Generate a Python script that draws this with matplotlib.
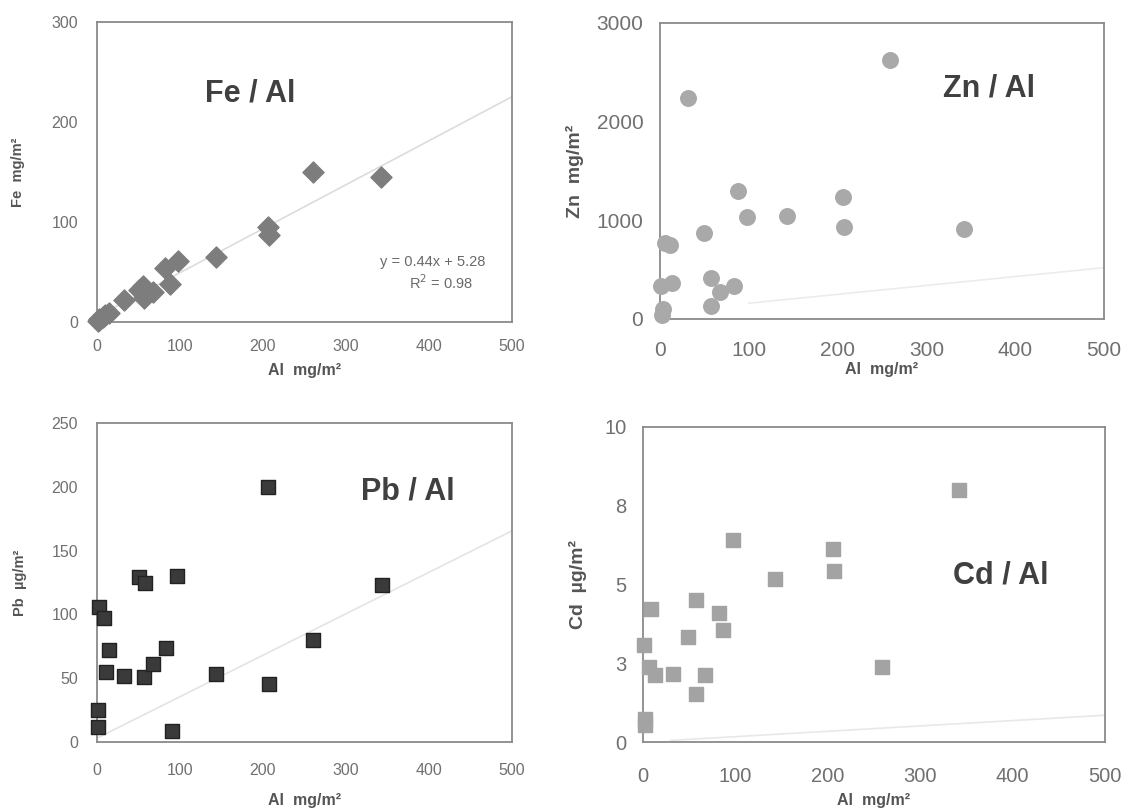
import matplotlib
matplotlib.use("Agg")
import matplotlib.pyplot as plt
import numpy as np

plt.rcParams['font.family'] = ['Liberation Sans', 'DejaVu Sans']

# Fe / Al
fe_al = [1, 2, 2, 7, 10, 14, 32, 50, 56, 57, 67, 82, 88, 97, 143, 206, 207, 260, 342]
fe = [1, 2, 3, 5, 7, 9, 22, 32, 36, 24, 30, 54, 38, 61, 65, 95, 87, 150, 145]
fe_fit = (0.44, 5.28)

# Zn / Al
zn_al = [259, 32, 88, 206, 98, 143, 207, 342, 50, 6, 11, 1, 14, 57, 68, 83, 57, 3, 2]
zn = [2629, 2241, 1298, 1234, 1038, 1048, 930, 910, 870, 775, 752, 337, 364, 415, 273, 330, 135, 101, 44]
zn_fit = (0.9, 70)

# Pb / Al
pb_al = [206, 343, 96, 50, 58, 2, 8, 14, 11, 33, 57, 68, 83, 143, 207, 260, 90, 1, 1]
pb = [200, 123, 130, 129, 125, 106, 97, 72, 55, 52, 51, 61, 74, 53.5, 45.5, 80, 9, 25, 12]
pb_fit = (0.325, 3)

# Cd / Al
cd_al = [342, 97, 206, 207, 143, 57, 9, 82, 87, 49, 1, 7, 13, 32, 67, 259, 57, 2, 2]
cd = [7.99, 6.42, 6.14, 5.42, 5.16, 4.50, 4.23, 4.10, 3.54, 3.33, 3.07, 2.38, 2.12, 2.17, 2.12, 2.38, 1.53, 0.74, 0.53]
cd_fit = (0.0017, 0.0)

fig = plt.figure(figsize=(11.3, 8.11), dpi=100)
W, H = 1130, 811


def box(l, t, r, b):
    return [l / W, 1 - b / H, (r - l) / W, (b - t) / H]


def style(ax, tick_size, xpad, ypad):
    for s in ax.spines.values():
        s.set_color('#8a8a8a')
        s.set_linewidth(1.3)
    ax.tick_params(length=0, labelsize=tick_size, labelcolor='#707070')
    ax.tick_params(axis='x', pad=xpad)
    ax.tick_params(axis='y', pad=ypad)
    ax.set_xlim(0, 500)
    ax.set_xticks([0, 100, 200, 300, 400, 500])


lab = dict(fontweight='bold', color='#555555')
ttl = dict(fontsize=22, fontweight='bold', color='#404040', va='center')

# ---- Fe
ax1 = fig.add_axes(box(97, 22, 512, 322))
xs = np.array([0, 500])
ax1.plot(xs, fe_fit[0] * xs + fe_fit[1], color='#dcdcdc', lw=1.2, zorder=1)
ax1.scatter(fe_al, fe, marker='D', s=115, color='#7d7d7d', edgecolors='#7d7d7d', zorder=3, clip_on=False)
ax1.set_ylim(0, 300)
ax1.set_yticks([0, 100, 200, 300])
style(ax1, 11.5, 12, 13.5)
ax1.set_xlabel('Al  mg/m²', fontsize=11.5, labelpad=7, **lab)
ax1.set_ylabel('Fe  mg/m²', fontsize=10.5, labelpad=19, **lab)
ax1.text(0.26, 0.76, 'Fe / Al', transform=ax1.transAxes, **ttl)
ax1.text(0.81, 0.2, 'y = 0.44x + 5.28', transform=ax1.transAxes, fontsize=10.5, color='#6a6a6a', ha='center', va='center')
ax1.text(0.83, 0.13, 'R$^2$ = 0.98', transform=ax1.transAxes, fontsize=10.5, color='#6a6a6a', ha='center', va='center')

# ---- Zn
ax2 = fig.add_axes(box(660, 23, 1104, 319))
xs = np.array([100, 500])
ax2.plot(xs, zn_fit[0] * xs + zn_fit[1], color='#ececec', lw=1.2, zorder=1)
ax2.scatter(zn_al, zn, marker='o', s=125, color='#a9a9a9', edgecolors='#a9a9a9', zorder=3, clip_on=False)
ax2.set_ylim(0, 3000)
ax2.set_yticks([0, 1000, 2000, 3000])
style(ax2, 15, 16, 12)
ax2.set_xlabel('Al  mg/m²', fontsize=11.5, labelpad=1, **lab)
ax2.set_ylabel('Zn  mg/m²', fontsize=14, labelpad=9, **lab)
ax2.text(0.637, 0.78, 'Zn / Al', transform=ax2.transAxes, **ttl)

# ---- Pb
ax3 = fig.add_axes(box(97, 423, 512, 742))
xs = np.array([0, 500])
ax3.plot(xs, pb_fit[0] * xs + pb_fit[1], color='#e4e4e4', lw=1.2, zorder=1)
ax3.scatter(pb_al, pb, marker='s', s=110, color='#3a3a3a', edgecolors='#222222', zorder=3, clip_on=False)
ax3.set_ylim(0, 250)
ax3.set_yticks([0, 50, 100, 150, 200, 250])
style(ax3, 11.5, 15, 13.5)
ax3.set_xlabel('Al  mg/m²', fontsize=11.5, labelpad=11, **lab)
ax3.set_ylabel('Pb  µg/m²', fontsize=10.5, labelpad=18, **lab)
ax3.text(0.635, 0.785, 'Pb / Al', transform=ax3.transAxes, **ttl)

# ---- Cd
ax4 = fig.add_axes(box(643, 427, 1105, 742))
xs = np.array([30, 500])
ax4.plot(xs, cd_fit[0] * xs + cd_fit[1], color='#e8e8e8', lw=1.2, zorder=1)
ax4.scatter(cd_al, cd, marker='s', s=115, color='#a3a3a3', edgecolors='#a3a3a3', zorder=3, clip_on=False)
ax4.set_ylim(0, 10)
ax4.set_yticks([0, 2.5, 5, 7.5, 10])
ax4.set_yticklabels(['0', '3', '5', '8', '10'])
style(ax4, 14.5, 18, 12)
ax4.set_xlabel('Al  mg/m²', fontsize=11.5, labelpad=5, **lab)
ax4.set_ylabel('Cd  µg/m²', fontsize=14, labelpad=12, **lab)
ax4.text(0.67, 0.53, 'Cd / Al', transform=ax4.transAxes, **ttl)

fig.savefig('out.png', dpi=100)
